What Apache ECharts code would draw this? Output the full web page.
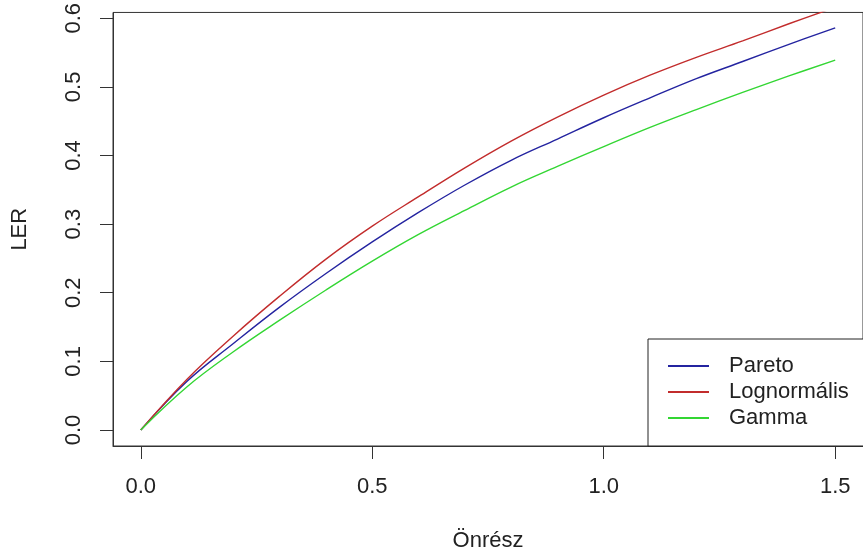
<!DOCTYPE html>
<html lang="hu">
<head>
    <meta charset="UTF-8">
    <title>LER</title>
    <style>
        html,body{margin:0;padding:0;background:#fff;}
        #chart{width:863px;height:557px;}
    </style>
    <script src="https://cdn.jsdelivr.net/npm/echarts@6/dist/echarts.min.js"></script>
</head>
<body>
<div id="chart"></div>
<script>
    // önrész értékek
    var xs = [0, 0.1, 0.2, 0.3, 0.4, 0.5, 0.6, 0.7, 0.8, 0.9, 1.0, 1.1, 1.2, 1.3, 1.4, 1.5];
    var pareto = [0, 0.071, 0.126, 0.179, 0.228, 0.274, 0.317, 0.357, 0.393, 0.424, 0.455, 0.484, 0.512, 0.537, 0.562, 0.586];
    var lognorm = [0, 0.074, 0.137, 0.195, 0.249, 0.297, 0.340, 0.382, 0.421, 0.456, 0.488, 0.517, 0.543, 0.567, 0.592, 0.616];
    var gamma = [0, 0.063, 0.114, 0.160, 0.204, 0.246, 0.285, 0.320, 0.354, 0.384, 0.413, 0.441, 0.467, 0.492, 0.516, 0.539];
    var names = ['Pareto', 'Lognormális', 'Gamma'];
    var colors = ['#2424a0', '#c22c2c', '#33d633'];
    var xTicks = [0, 0.5, 1.0, 1.5];
    var yTicks = [0, 0.1, 0.2, 0.3, 0.4, 0.5, 0.6];

    function pairs(arr) {
        return xs.map(function (x, i) { return [x, arr[i]]; });
    }

    var font = 'Liberation Sans, Arial, sans-serif';
    var txt = '#222';

    var myChart = echarts.init(document.getElementById('chart'), null, {renderer: 'canvas'});
    var option = {
        animation: false,
        backgroundColor: '#fff',
        textStyle: {fontFamily: font},
        grid: {
            left: 113, right: -6, top: 12, bottom: 110,
            show: true, borderColor: '#333', borderWidth: 1, backgroundColor: 'transparent'
        },
        legend: {
            data: names.map(function (n) { return {name: n, icon: 'rect'}; }),
            orient: 'vertical',
            left: 648, top: 339,
            padding: [16, 40, 17, 20],
            itemWidth: 41, itemHeight: 2, itemGap: 4,
            backgroundColor: '#fff',
            borderColor: '#222', borderWidth: 1, borderRadius: 0,
            textStyle: {fontSize: 22, color: txt, fontFamily: font, lineHeight: 22, padding: [0, 0, 0, 15]}
        },
        xAxis: {
            type: 'value',
            min: -0.06, max: 1.56,
            name: 'Önrész', nameLocation: 'middle', nameGap: 84,
            nameTextStyle: {fontSize: 22, color: txt, fontFamily: font},
            axisLine: {show: true, onZero: false, lineStyle: {color: '#333', width: 1}},
            axisTick: {show: true, length: 13, lineStyle: {color: '#333'}, customValues: xTicks},
            axisLabel: {fontSize: 22, color: txt, margin: 30, customValues: xTicks,
                formatter: function (v) { return v.toFixed(1); }},
            splitLine: {show: false}
        },
        yAxis: {
            type: 'value',
            min: -0.0234, max: 0.6085,
            name: 'LER', nameLocation: 'middle', nameGap: 82, nameRotate: 90,
            nameTextStyle: {fontSize: 22, color: txt, fontFamily: font},
            axisLine: {show: true, onZero: false, lineStyle: {color: '#333', width: 1}},
            axisTick: {show: true, length: 13, lineStyle: {color: '#333'}, customValues: yTicks},
            axisLabel: {fontSize: 22, color: txt, margin: 28, rotate: 90, customValues: yTicks,
                formatter: function (v) { return v.toFixed(1); }},
            splitLine: {show: false}
        },
        series: [
            {name: names[0], type: 'line', data: pairs(pareto), symbol: 'none', smooth: 0.4,
                lineStyle: {color: colors[0], width: 1.4}, itemStyle: {color: colors[0]}},
            {name: names[1], type: 'line', data: pairs(lognorm), symbol: 'none', smooth: 0.4,
                lineStyle: {color: colors[1], width: 1.4}, itemStyle: {color: colors[1]}},
            {name: names[2], type: 'line', data: pairs(gamma), symbol: 'none', smooth: 0.4,
                lineStyle: {color: colors[2], width: 1.4}, itemStyle: {color: colors[2]}}
        ]
    };
    myChart.setOption(option);
</script>
</body>
</html>
